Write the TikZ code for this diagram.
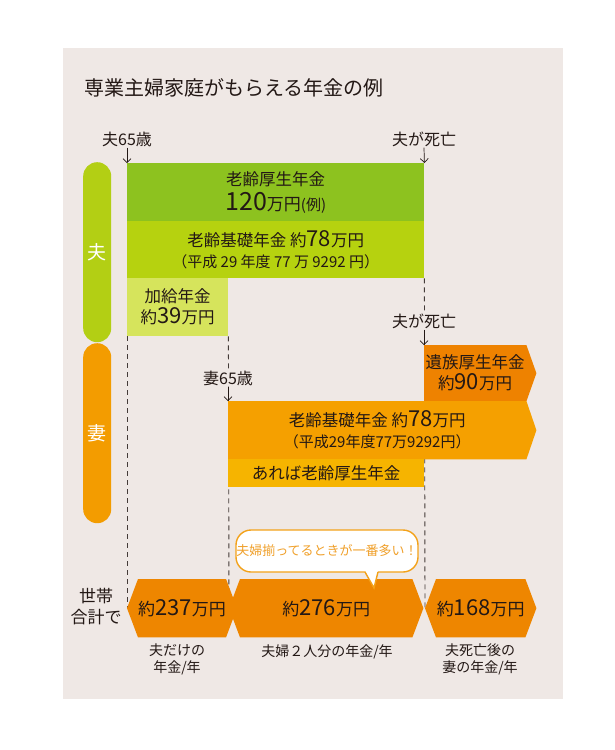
\documentclass[tikz,border=0pt]{standalone}
\usepackage{fontspec}
\setmainfont{Noto Sans CJK JP}
\usetikzlibrary{arrows.meta}
\pgfdeclarelayer{bg}
\pgfsetlayers{bg,main}

\definecolor{panel}{HTML}{EFE8E5}
\definecolor{ink}{HTML}{231815}
\definecolor{gKosei}{HTML}{8DC21F}
\definecolor{gKiso}{HTML}{B6D20F}
\definecolor{gKakyu}{HTML}{D6E45C}
\definecolor{gPill}{HTML}{B3CF14}
\definecolor{oPill}{HTML}{F39C00}
\definecolor{oIzoku}{HTML}{EE8200}
\definecolor{oKiso}{HTML}{F5A000}
\definecolor{oAreba}{HTML}{F6B400}
\definecolor{oTotal}{HTML}{EE8600}
\definecolor{oBubble}{HTML}{F3A21A}
\definecolor{oBubbleTxt}{HTML}{F0A02A}

% bigger digits inside the boxes
\newcommand{\bignum}[2][22]{{\fontsize{#1}{#1}\selectfont #2}}

\begin{document}
\begin{tikzpicture}[
    x=1pt, y=-1pt, % pixel-like units, y grows downward
    bar/.style   = {rectangle, anchor=north west, inner sep=0pt, align=center, text=ink, font=\fontsize{16.5}{21}\selectfont},
    pill/.style  = {rectangle, rounded corners=14pt, anchor=north west, minimum width=28pt, minimum height=180pt, inner sep=0pt, text=white, font=\fontsize{19}{19}\selectfont},
    tag/.style   = {fill=panel, inner sep=1pt, text=ink, font=\fontsize{16}{18}\selectfont},
    tip/.style   = {-{Straight Barb[length=4pt, width=8pt]}, line width=0.7pt, draw=ink},
    guide/.style = {dash pattern=on 5pt off 4pt, line width=0.9pt, draw=ink!85},
    total/.style = {rectangle, anchor=north west, inner sep=0pt, minimum height=58pt, text=ink, font=\fontsize{17}{17}\selectfont},
    note/.style  = {align=center, inner sep=0pt, text=ink, font=\fontsize{14}{17}\selectfont}
  ]
  \useasboundingbox (0,0) rectangle (615,750);

  % ===== Panel and title =====
  \begin{pgfonlayer}{bg}
    \fill[panel] (63,48) rectangle (563,699);
  \end{pgfonlayer}
  \node[anchor=west, inner sep=0pt, text=ink, font=\fontsize{20}{20}\selectfont] (title) at (84,88) {専業主婦家庭がもらえる年金の例};

  % ===== Side pills =====
  \node[pill, fill=gPill] (pHusband) at (83,162) {夫};
  \node[pill, fill=oPill] (pWife) at (83,343) {妻};

  % ===== Husband =====
  \node[bar, fill=gKosei, minimum width=297pt, minimum height=58pt] (kosei) at (127,163)
    {老齢厚生年金\\[4pt]\bignum[25]{120}{\fontsize{17}{17}\selectfont 万円}{\fontsize{15}{15}\selectfont (例)}};
  \node[bar, fill=gKiso, minimum width=297pt, minimum height=57pt] (kiso) at (127,221)
    {老齢基礎年金 約\bignum{78}万円\\{\fontsize{15}{15}\selectfont （平成 29 年度 77 万 9292 円）}};
  \node[bar, fill=gKakyu, minimum width=101pt, minimum height=58pt] (kakyu) at (127,278)
    {加給年金\\約\bignum{39}万円};

  % ===== Wife =====
  \node[bar, minimum width=102pt, minimum height=56pt] (izoku) at (424,345)
    {遺族厚生年金\\約\bignum{90}万円};
  \node[bar, minimum width=298pt, minimum height=58pt] (tKiso) at (228,401)
    {老齢基礎年金 約\bignum{78}万円\\{\fontsize{15}{15}\selectfont （平成29年度77万9292円）}};
  \node[bar, fill=oAreba, minimum width=196pt, minimum height=28pt] (areba) at (228,459)
    {あれば老齢厚生年金};

  % ===== Household totals =====
  \node[total, minimum width=78pt] (hexA) at (138,579) {約\bignum{237}万円};
  \node[total, minimum width=172pt] (hexB) at (240,579) {約\bignum{276}万円};
  \node[total, minimum width=89pt] (hexC) at (436,579) {約\bignum{168}万円};

  \node[note, font=\fontsize{17}{21}\selectfont] (sum) at (96,607) {世帯\\合計で};
  \node[note] (nA) at (177,659) {夫だけの\\年金/年};
  \node[note] (nB) at (327,652) {夫婦２人分の年金/年};
  \node[note] (nC) at (480,659) {夫死亡後の\\妻の年金/年};

  % ===== Event labels =====
  \node[tag] (lbH65) at (127,139) {夫65歳};
  \node[tag] (lbHdeath) at (424,139) {夫が死亡};
  \node[tag] (lbHdeath2) at (424,321) {夫が死亡};
  \node[tag] (lbW65) at (228,378) {妻65歳};

  \draw[tip] (lbH65.south) -- (kosei.north west);
  \draw[tip] (lbHdeath.south) -- (kosei.north east);
  \draw[tip] (lbHdeath2.south) -- (izoku.north west);
  \draw[tip] (lbW65.south) -- (tKiso.north west);

  % ===== Guides and pointed shapes (behind) =====
  \begin{pgfonlayer}{bg}
    \draw[guide] (kakyu.south west) -- ([xshift=-11pt]hexA.west);
    \draw[guide] (kakyu.south east) -- ([xshift=-11pt]hexB.west);
    \draw[guide] (kiso.south east) -- ([xshift=-11pt]hexC.west);
    \fill[oIzoku] (izoku.north west) -- (izoku.north east) -- ([xshift=10pt]izoku.east)
      -- (izoku.south east) -- (izoku.south west) -- cycle;
    \fill[oKiso] (tKiso.north west) -- (tKiso.north east) -- ([xshift=10pt]tKiso.east)
      -- (tKiso.south east) -- (tKiso.south west) -- cycle;
    \foreach \h in {hexA,hexB,hexC}{
      \fill[oTotal] (\h.north west) -- ([xshift=-11pt]\h.west) -- (\h.south west)
        -- (\h.south east) -- ([xshift=11pt]\h.east) -- (\h.north east) -- cycle;
    }
  \end{pgfonlayer}

  % ===== Speech bubble =====
  \node[draw=oBubble, line width=1.4pt, fill=white, rounded corners=15pt, minimum width=182pt, minimum height=42pt,
        inner sep=0pt, text=oBubbleTxt, font=\fontsize{13}{13}\selectfont] (bubble) at (327,551) {夫婦揃ってるときが一番多い！};
  \coordinate (tailTip) at (374,588);
  \fill[white] (365,570.5) -- (tailTip) -- (378,570.5) -- cycle;
  \draw[oBubble, line width=1.4pt] (365,572) -- (tailTip) -- (378,572);

\end{tikzpicture}
\end{document}
